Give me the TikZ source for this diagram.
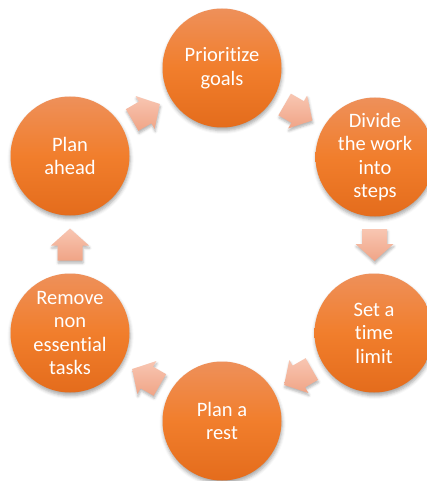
\documentclass[tikz,border=0pt]{standalone}
\usepackage{fontspec}
\setmainfont[Ligatures=NoCommon]{Carlito}
\usetikzlibrary{calc,shadows.blur}

\definecolor{discTop}{RGB}{238,144,90}
\definecolor{discMid}{RGB}{241,126,44}
\definecolor{discBot}{RGB}{228,108,28}
\definecolor{arrTop}{RGB}{248,198,178}
\definecolor{arrBot}{RGB}{240,164,134}

\tikzset{
  disc/.style={circle, minimum size=119pt, inner sep=0pt,
    top color=discTop, bottom color=discBot, middle color=discMid,
    text=white, align=center,
    font=\fontsize{20.5}{23.5}\selectfont,
    blur shadow={shadow xshift=0.6pt, shadow yshift=-3pt,
                 shadow blur radius=3.5pt, shadow opacity=35}},
  flowfill/.style={top color=arrTop, bottom color=arrBot,
    blur shadow={shadow xshift=0.6pt, shadow yshift=-2.5pt,
                 shadow blur radius=2.5pt, shadow opacity=30}},
  % block arrow pointing along +x, centred on the pic origin
  blockarrow/.pic={
    \path[flowfill] (-16,-12.5) -- (-1,-12.5) -- (-1,-19) -- (16,0)
      -- (-1,19) -- (-1,12.5) -- (-16,12.5) -- cycle;
  }
}

\begin{document}
\begin{tikzpicture}[x=1pt, y=-1pt]
  \useasboundingbox (0,0) rectangle (427,481);
  \clip (0,0) rectangle (427,481);

  % cycle steps
  \node[disc] (goals)  at (222,68)  {Prioritize\\goals};
  \node[disc] (divide) at (375,157) {Divide\\the work\\into\\steps};
  \node[disc] (limit)  at (374,333) {Set a\\time\\limit};
  \node[disc] (rest)   at (222,421) {Plan a\\rest};
  \node[disc] (remove) at (70,333)  {Remove\\non\\essential\\tasks};
  \node[disc] (ahead)  at (70,156)  {Plan\\ahead};

  % block arrows between consecutive steps
  \pic[rotate=-30] at ($(goals)!0.5!(divide)$)  {blockarrow};
  \pic[rotate=-90] at ($(divide)!0.5!(limit)$)  {blockarrow};
  \pic[rotate=210] at ($(limit)!0.5!(rest)$)    {blockarrow};
  \pic[rotate=150] at ($(rest)!0.5!(remove)$)   {blockarrow};
  \pic[rotate=90]  at ($(remove)!0.5!(ahead)$)  {blockarrow};
  \pic[rotate=30]  at ($(ahead)!0.5!(goals)$)   {blockarrow};
\end{tikzpicture}
\end{document}
